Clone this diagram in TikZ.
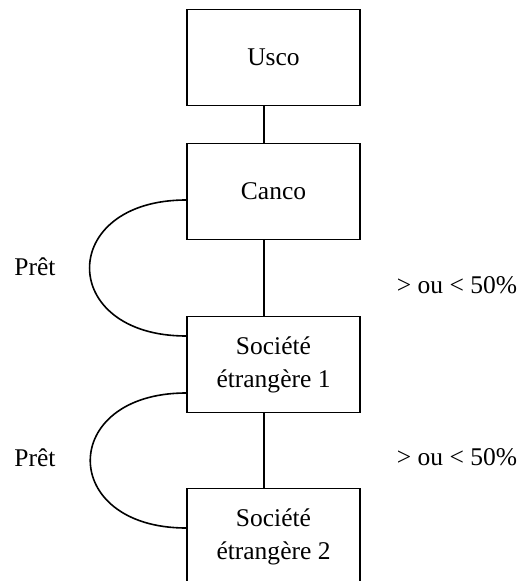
\documentclass[tikz,border=0pt]{standalone}
\usepackage{fontspec}
\setmainfont{Liberation Serif}
\usepackage{tikz}
\tikzset{
  entity/.style={draw, align=center, minimum width=86.5pt, minimum height=48pt, line width=0.8pt, inner sep=2pt},
  link/.style={line width=0.8pt},
  loan/.style={line width=0.8pt, out=180, in=180, looseness=2.43},
  note/.style={align=center}
}
\begin{document}
\begin{tikzpicture}[x=0.5pt, y=-0.5pt, font=\fontsize{12.75}{16.5}\selectfont]
  \useasboundingbox (0,0) rectangle (523,581);

  \node[entity] (usco) at (273.5,57.5) {Usco};
  \node[entity] (canco) at (273.5,191.5) {Canco};
  \node[entity] (soc1) at (273.5,364.5) {Société\\étrangère 1};
  \node[entity] (soc2) at (273.5,536.5) {Société\\étrangère 2};

  \coordinate (spine) at (264,0);
  \draw[link] (usco.south -| spine) -- (canco.north -| spine);
  \draw[link] (canco.south -| spine) -- (soc1.north -| spine);
  \draw[link] (soc1.south -| spine) -- (soc2.north -| spine);

  % prets
  \coordinate (pret1a) at ([yshift=-4.25pt]canco.west);
  \coordinate (pret1b) at ([yshift=14.25pt]soc1.west);
  \coordinate (pret2a) at ([yshift=-14.25pt]soc1.west);
  \coordinate (pret2b) at ([yshift=4.25pt]soc2.west);
  \draw[loan] (pret1a) to (pret1b);
  \draw[loan] (pret2a) to (pret2b);

  \node[note] (pret1) at (35,267) {Prêt};
  \node[note] (pret2) at (35,458) {Prêt};
  \node[note] (part1) at (457,285) {> ou < 50\%};
  \node[note] (part2) at (457,457) {> ou < 50\%};
\end{tikzpicture}
\end{document}
